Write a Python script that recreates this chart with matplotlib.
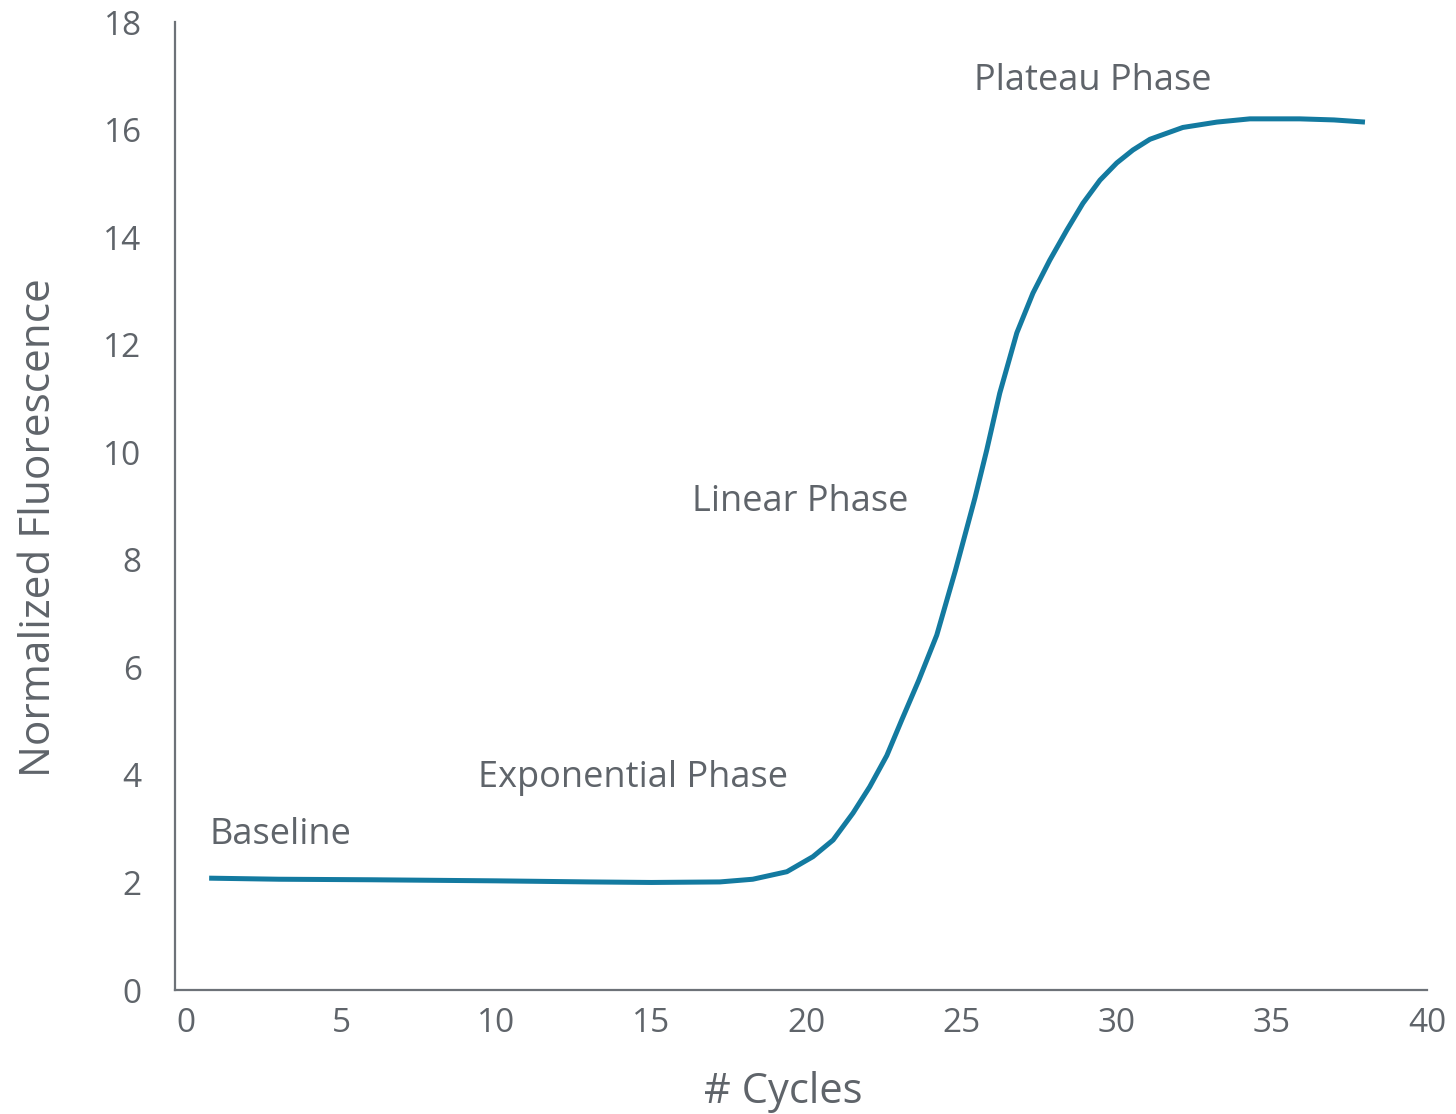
import matplotlib
matplotlib.use("Agg")
import matplotlib.pyplot as plt

# amplification curve
cycles = [0.75, 3.0, 6.0, 10.0, 13.0, 15.0, 17.21, 18.27, 19.37, 20.21, 20.86,
          21.50, 22.04, 22.59, 23.07, 23.62, 24.20, 24.80, 25.43, 25.81,
          26.23, 26.78, 27.30, 27.84, 28.39, 28.91, 29.46, 30.00, 30.52, 31.07,
          32.13, 33.23, 34.29, 35.9, 37.0, 38.0]
fluor = [2.08, 2.06, 2.05, 2.03, 2.01, 2.0, 2.01, 2.06, 2.20, 2.48, 2.79,
         3.29, 3.78, 4.36, 5.02, 5.76, 6.60, 7.80, 9.15, 10.04,
         11.10, 12.22, 12.96, 13.57, 14.13, 14.63, 15.06, 15.38, 15.62, 15.82,
         16.04, 16.14, 16.20, 16.2, 16.18, 16.14]

phase_labels = ["Baseline", "Exponential Phase", "Linear Phase", "Plateau Phase"]
phase_x = [0.75, 9.4, 16.3, 25.4]
phase_y = [2.88, 3.94, 9.07, 16.9]

xticks = [0, 5, 10, 15, 20, 25, 30, 35, 40]
yticks = [0, 2, 4, 6, 8, 10, 12, 14, 16, 18]

grey = "#5f646a"
plt.rcParams["font.family"] = ["Open Sans", "DejaVu Sans"]

fig = plt.figure(figsize=(14.56, 11.14), dpi=100)
ax = fig.add_axes([0.1202, 0.1113, 0.8599, 0.8689])

ax.plot(cycles, fluor, color="#137aa0", lw=3.6, solid_capstyle="butt",
        solid_joinstyle="round")

for txt, x, y in zip(phase_labels, phase_x, phase_y):
    ax.text(x, y, txt, fontsize=26, color=grey, ha="left", va="center")

ax.set_xlim(-0.35, 40)
ax.set_ylim(0, 18)
ax.set_xticks(xticks)
ax.set_yticks(yticks)
ax.tick_params(length=0, labelsize=24, labelcolor=grey)
ax.tick_params(axis="y", pad=24)
ax.tick_params(axis="x", pad=12)

for s in ["top", "right"]:
    ax.spines[s].set_visible(False)
for s in ["left", "bottom"]:
    ax.spines[s].set_color("#6d7278")
    ax.spines[s].set_linewidth(1.6)

ax.set_xlabel("# Cycles", fontsize=30, color=grey)
ax.set_ylabel("Normalized Fluorescence", fontsize=30.5, color=grey)
ax.xaxis.set_label_coords(0.486, -0.084)
ax.yaxis.set_label_coords(-0.092, 0.478)

fig.savefig("out.png", dpi=100)
